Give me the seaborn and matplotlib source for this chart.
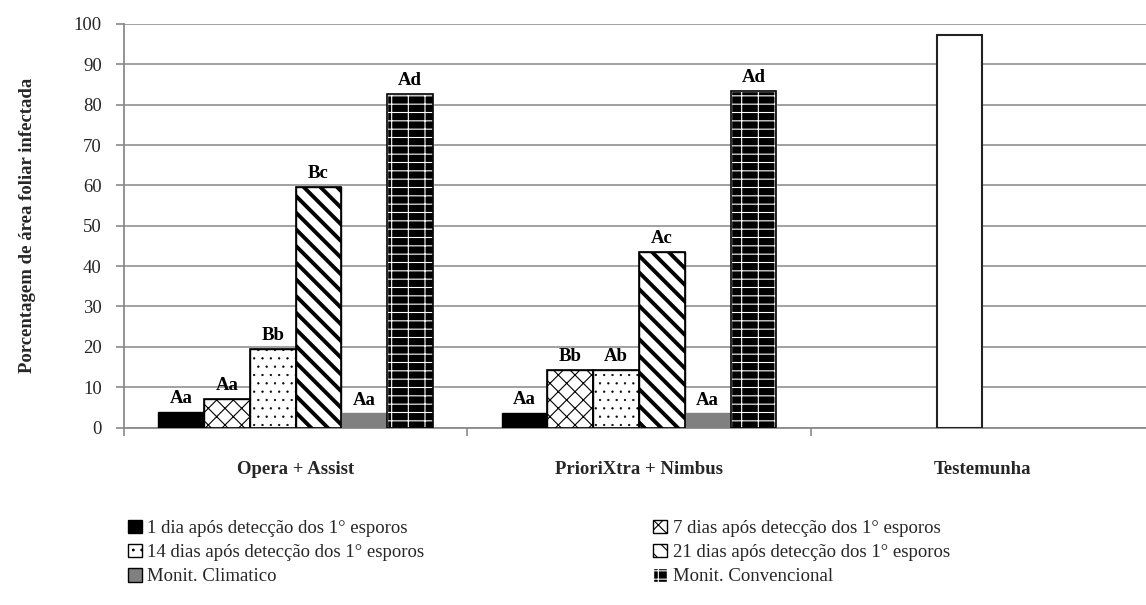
import numpy as np
import pandas as pd
import seaborn as sns
import matplotlib
matplotlib.use("Agg")
import matplotlib.pyplot as plt
from matplotlib.patches import Patch

# ---------------- data ----------------
categories = ["Opera + Assist", "PrioriXtra + Nimbus", "Testemunha"]
series = [
    "1 dia após detecção dos 1° esporos",
    "7 dias após detecção dos 1° esporos",
    "14 dias após detecção dos 1° esporos",
    "21 dias após detecção dos 1° esporos",
    "Monit. Climatico",
    "Monit. Convencional",
]
vals_1dia = [3.8, 3.6]
vals_7dias = [7.0, 14.2]
vals_14dias = [19.5, 14.2, 97.3]
vals_21dias = [59.7, 43.5]
vals_clim = [3.5, 3.5]
vals_conv = [82.6, 83.4]

lab_1dia = ["Aa", "Aa"]
lab_7dias = ["Aa", "Bb"]
lab_14dias = ["Bb", "Ab", ""]
lab_21dias = ["Bc", "Ac"]
lab_clim = ["Aa", "Aa"]
lab_conv = ["Ad", "Ad"]

all_vals = [vals_1dia, vals_7dias, vals_14dias, vals_21dias, vals_clim, vals_conv]
all_labs = [lab_1dia, lab_7dias, lab_14dias, lab_21dias, lab_clim, lab_conv]

rows = []
for s, vals, labs in zip(series, all_vals, all_labs):
    for c, v, l in zip(categories, vals, labs):
        rows.append({"cat": c, "serie": s, "val": v, "lab": l})
df = pd.DataFrame(rows)
label_map = {(r.serie, r.cat): r.lab for r in df.itertuples()}

# ---------------- styles ----------------
faces = ["black", "white", "white", "white", "#808080", "black"]
hatches = [None, "xx", "..", "\\\\", None, "--|"]
hatch_cols = ["black", "black", "black", "black", "#808080", "white"]
hatch_lw = [1.0, 0.8, 0.4, 2.8, 1.0, 0.8]

sns.set_theme(style="white")
plt.rcParams["font.family"] = ["Liberation Serif", "DejaVu Serif"]
plt.rcParams["hatch.linewidth"] = 0.8

fig = plt.figure(figsize=(11.46, 6.05), dpi=100)
ax = fig.add_axes([124 / 1146, 1 - 427.5 / 605, (1154 - 124) / 1146, (427.5 - 24) / 605])

palette = dict(zip(series, faces))
sns.barplot(data=df, x="cat", y="val", hue="serie", order=categories,
            hue_order=series, palette=palette, width=0.8, dodge=True,
            errorbar=None, saturation=1, legend=False, ax=ax, zorder=3)

nser = len(series)
slot = 0.8 / nser
for cont in ax.containers:
    for p in cont.patches:
        cx = p.get_x() + p.get_width() / 2
        ci = int(round(cx))
        si = int(round((cx - ci + 0.4) / slot - 0.5))
        if np.isnan(p.get_height()):
            continue
        if categories[ci] == "Testemunha":
            p.set_facecolor("white")
            p.set_hatch(None)
            p.set_edgecolor("#222222")
            p.set_linewidth(1.5)
        else:
            p.set_facecolor(faces[si])
            if hatches[si]:
                p.set_hatch(hatches[si])
            p.set_edgecolor(hatch_cols[si])
            if hasattr(p, "set_hatch_linewidth"):
                p.set_hatch_linewidth(hatch_lw[si])
            p.set_linewidth(1.0)
            if si in (1, 2, 3, 5):
                # outline for hatched bars
                ax.add_patch(plt.Rectangle((p.get_x(), 0), p.get_width(), p.get_height(),
                                           fill=False, edgecolor="black", linewidth=1.2, zorder=4))
            lab = label_map.get((series[si], categories[ci]), "")
            if lab:
                ax.text(cx, p.get_height() + 1.2, lab, ha="center", va="bottom",
                        fontsize=13.5, fontweight="bold", color="black", zorder=5)

# ---------------- axes ----------------
ax.set_ylim(0, 100)
ax.set_xlim(-0.5, 2.5)
ax.set_yticks(np.arange(0, 101, 10))
ax.yaxis.grid(True, color="#9a9a9a", linewidth=1.3, zorder=0)
ax.xaxis.grid(False)
ax.set_axisbelow(True)
for side in ("top", "right"):
    ax.spines[side].set_visible(False)
ax.spines["left"].set_color("#8a8a8a")
ax.spines["bottom"].set_color("#8a8a8a")
ax.spines["left"].set_linewidth(1.3)
ax.spines["bottom"].set_linewidth(1.3)

ax.tick_params(axis="y", which="major", direction="out", length=6, width=1.2,
               color="#8a8a8a", pad=10, labelsize=13.5, left=True)
ax.set_xticks(range(len(categories)))
ax.set_xticklabels(categories, fontweight="bold", fontsize=13.5)
ax.set_xticks([-0.5, 0.5, 1.5, 2.5], minor=True)
ax.tick_params(axis="x", which="major", length=0, pad=24)
ax.tick_params(axis="x", which="minor", direction="out", length=6, width=1.2,
               color="#8a8a8a", bottom=True)
ax.set_xlabel("")
ax.set_ylabel("Porcentagem de área foliar infectada", fontsize=13.5,
              fontweight="bold", labelpad=27)

# ---------------- legend ----------------
handles = [Patch(facecolor=faces[i], edgecolor="black" if i != 5 else "white",
                 hatch=hatches[i], label=series[i]) for i in range(nser)]
order = [0, 2, 4, 1, 3, 5]
leg = fig.legend([handles[i] for i in order], [series[i] for i in order],
                 loc="upper left", bbox_to_anchor=(120 / 1146, 1 - 512 / 605),
                 ncol=2, frameon=False, fontsize=13.5, handlelength=0.75,
                 handleheight=0.75, handletextpad=0.3, columnspacing=12.2,
                 labelspacing=0.36, borderaxespad=0)

fig.savefig("out.png", dpi=100, facecolor="white")
